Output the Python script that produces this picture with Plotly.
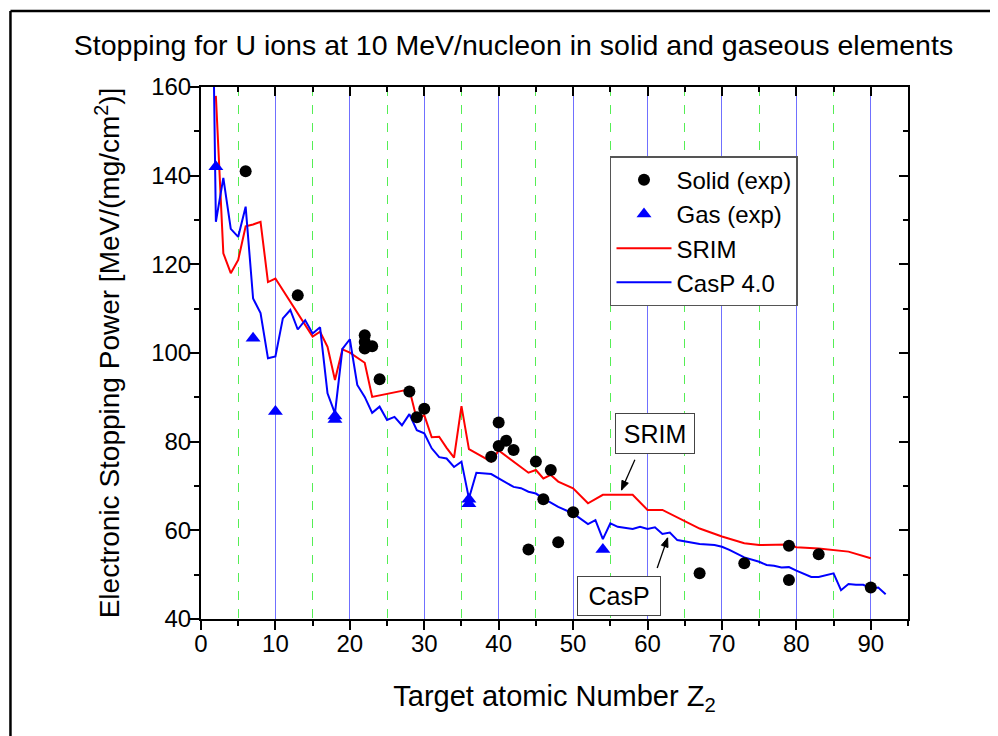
import math
import plotly.graph_objects as go

# ---- data ----
srim_z = [2, 3, 4, 5, 6, 7, 8, 9, 10, 15, 16, 17, 18, 19, 20, 22, 23, 28, 29, 30, 31, 32, 33, 34, 35, 36,
          39, 40, 44, 45, 46, 47, 48, 50, 52, 54, 58, 60, 62, 65, 67, 70, 73, 75, 79, 80, 83, 87, 90]
srim_s = [158, 122.5, 118, 121, 128.6, 129, 129.6, 116, 116.8, 103.7, 104.8, 101.4, 93.9, 100.8, 100.1, 97.8,
          90.1, 91.8, 85, 86, 81, 81.1, 78.6, 76.4, 88, 78.3,
          75.5, 78, 73, 73.6, 71.7, 72.5, 71, 69.5, 66.1, 68, 68, 64.6, 64.6, 62, 60.4, 58.6, 57.1, 56.7,
          56.8, 56.2, 55.9, 55.2, 53.7]

casp_z = [1, 2, 3, 4, 5, 6, 7, 8, 9, 10, 11, 12, 13, 14, 15, 16, 17, 18, 19, 20, 21, 22, 23, 24, 25, 26, 27,
          28, 29, 30, 31, 32, 33, 34, 35, 36, 37, 39, 40, 42, 43, 44, 45, 46, 48, 50, 52, 53, 54, 55, 56, 58,
          59, 60, 61, 62, 63, 64, 67, 69, 70, 71, 73, 75, 76, 77, 78, 79, 80, 82, 83, 85, 86, 87, 88, 89, 90,
          91, 92]
casp_s = [250, 129.6, 139.5, 128, 126.2, 133, 112.3, 109, 98.8, 99.2, 107.8, 109.7, 105.3, 107.4, 104.4,
          105.8, 90.9, 86.4, 100.9, 103.1, 92.8, 90.1, 86.5, 87.9, 84.9, 85.6, 83.7,
          86.2, 82.6, 81.9, 78.5, 76.5, 76.2, 74.3, 75.5, 67.2, 73, 72.7, 71.7, 69.8, 69.5, 68.7, 68.3, 67.2,
          65.3, 63.8, 61.4, 62.3, 58, 61.6, 60.8, 60.3,
          60.8, 60.3, 60.7, 59.2, 59.5, 57.8, 56.9, 56.7, 56.3, 55.6, 53.9, 52.9, 52.2, 52, 51.6, 51.7, 50.9,
          49.5, 49.5, 50.3, 46.5, 47.9, 47.7, 47.7, 46.9,
          47.1, 45.6]

solid_z = [6, 13, 22, 22, 22, 23, 24, 28, 29, 30, 39, 40, 40, 41, 42, 44, 45, 46, 47, 48, 50, 67, 73, 79,
           79, 83, 90]
solid_s = [141, 113, 104, 102.5, 101, 101.5, 94.1, 91.3, 85.5, 87.4, 76.6, 84.3, 79, 80.2, 78.1, 55.7, 75.5,
           67, 73.6, 57.3, 64.1, 50.3, 52.6, 56.5, 48.8, 54.6, 47.1]

gas_z = [2, 7, 10, 18, 18, 36, 36, 54]
gas_s = [142, 103.3, 86.8, 85.8, 85, 67, 66, 55.7]

x_range = [0, 95]
y_range = [40, 160]

FONT = "Arial, Liberation Sans, sans-serif"

W, H = 998, 736
M = dict(l=193, r=98, t=79, b=125)
plot_w = W - M["l"] - M["r"]
plot_h = H - M["t"] - M["b"]
px_x = plot_w / (x_range[1] - x_range[0])
px_y = plot_h / (y_range[1] - y_range[0])

fig = go.Figure()
fig.add_trace(go.Scatter(x=srim_z, y=srim_s, mode="lines", name="SRIM", legendrank=3,
                         line=dict(color="#ff0000", width=2)))
fig.add_trace(go.Scatter(x=casp_z, y=casp_s, mode="lines", name="CasP 4.0", legendrank=4,
                         line=dict(color="#0000ff", width=2)))
fig.add_trace(go.Scatter(x=solid_z, y=solid_s, mode="markers", name="Solid (exp)", legendrank=1,
                         marker=dict(symbol="circle", size=12, color="black")))
fig.add_trace(go.Scatter(x=gas_z, y=gas_s, mode="markers", name="Gas (exp)", legendrank=2,
                         xaxis="x2", yaxis="y2",
                         marker=dict(symbol="triangle-up", size=13, color="#0000ff")))

axis_common = dict(showline=True, linecolor="black", linewidth=2, zeroline=False, mirror=False)

fig.update_layout(
    width=W, height=H,
    margin=M,
    paper_bgcolor="white", plot_bgcolor="white",
    font=dict(family=FONT, color="black", size=22),
    showlegend=True,
    title=dict(text="Stopping for U ions at 10 MeV/nucleon in solid and gaseous elements",
               x=0.5065, xref="container", xanchor="center", y=0.9497, yref="container", yanchor="middle",
               font=dict(size=28.5, family=FONT, color="black")),
    xaxis=dict(range=x_range, dtick=10, tick0=0, ticks="outside", ticklen=9, tickwidth=2, tickcolor="black",
               showgrid=True, gridcolor="#7070ff", gridwidth=1,
               minor=dict(dtick=5, ticks="outside", ticklen=5, tickwidth=1.5, tickcolor="black",
                          showgrid=True, gridcolor="#55ee55", griddash="dash", gridwidth=1),
               tickfont=dict(size=24, family=FONT), ticklabelstandoff=-7,
               title=dict(text="Target atomic Number Z<sub>2</sub>", font=dict(size=29, family=FONT),
                          standoff=30),
               **axis_common),
    yaxis=dict(range=y_range, dtick=20, tick0=0, ticks="outside", ticklen=9, tickwidth=2, tickcolor="black",
               showgrid=False,
               minor=dict(dtick=10, ticks="outside", ticklen=5, tickwidth=1.5, tickcolor="black"),
               tickfont=dict(size=24, family=FONT), ticklabelstandoff=-6,
               title=dict(text="Electronic Stopping Power [MeV/(mg/cm<sup>2</sup>)]",
                          font=dict(size=28, family=FONT), standoff=23),
               **axis_common),
    xaxis2=dict(range=x_range, overlaying="x", side="top", dtick=10, tick0=0, ticks="inside", ticklen=9,
                tickwidth=2, tickcolor="black", showticklabels=False, showgrid=False,
                minor=dict(dtick=5, ticks="inside", ticklen=5, tickwidth=1.5, tickcolor="black"),
                **axis_common),
    yaxis2=dict(range=y_range, overlaying="y", side="right", dtick=20, tick0=0, ticks="inside", ticklen=9,
                tickwidth=2, tickcolor="black", showticklabels=False, showgrid=False,
                minor=dict(dtick=10, ticks="inside", ticklen=5, tickwidth=1.5, tickcolor="black"),
                **axis_common),
    legend=dict(x=0.5785, y=0.870, xanchor="left", yanchor="top", bgcolor="white",
                bordercolor="#555555", borderwidth=1.5, font=dict(size=24, family=FONT),
                itemwidth=55, traceorder="normal", tracegroupgap=0),
)

# annotation boxes
fig.add_annotation(x=61.0, y=81.8, xref="x", yref="y", text="SRIM", showarrow=False,
                   font=dict(size=25, family=FONT, color="black"), bgcolor="white",
                   bordercolor="#444444", borderwidth=1, borderpad=1, width=76, height=37)
fig.add_annotation(x=56.1, y=45.2, xref="x", yref="y", text="CasP", showarrow=False,
                   font=dict(size=25, family=FONT, color="black"), bgcolor="white",
                   bordercolor="#444444", borderwidth=1, borderpad=1, width=80, height=36)


def add_arrow(tail, head, head_len=9, head_half=3.5):
    """Arrow from tail to head (data coords), with a filled head sized in pixels."""
    fig.add_shape(type="line", xref="x", yref="y", x0=tail[0], y0=tail[1], x1=head[0], y1=head[1],
                  line=dict(color="black", width=1.3))
    dxp = (head[0] - tail[0]) * px_x
    dyp = (head[1] - tail[1]) * px_y
    n = math.hypot(dxp, dyp)
    ux, uy = dxp / n, dyp / n
    bx, by = -ux * head_len, -uy * head_len
    pts = [(0, 0), (bx - uy * head_half, by + ux * head_half), (bx + uy * head_half, by - ux * head_half)]
    path = "M " + " L ".join(f"{head[0] + p[0] / px_x:.4f},{head[1] + p[1] / px_y:.4f}" for p in pts) + " Z"
    fig.add_shape(type="path", xref="x", yref="y", path=path, fillcolor="black",
                  line=dict(color="black", width=1))


# arrows pointing from the label boxes to the curves
add_arrow((58.3, 75.9), (56.5, 69.1))
add_arrow((61.3, 51.5), (62.7, 58.3))

# outer frame (top and left edges visible in the reference)
fig.add_shape(type="line", xref="paper", yref="paper", x0=-0.2695, x1=1.2, y0=1.1429, y1=1.1429,
              line=dict(color="black", width=2.5))
fig.add_shape(type="line", xref="paper", yref="paper", x0=-0.2695, x1=-0.2695, y0=-0.3, y1=1.1429,
              line=dict(color="black", width=2.5))

fig.write_html("out.html")
